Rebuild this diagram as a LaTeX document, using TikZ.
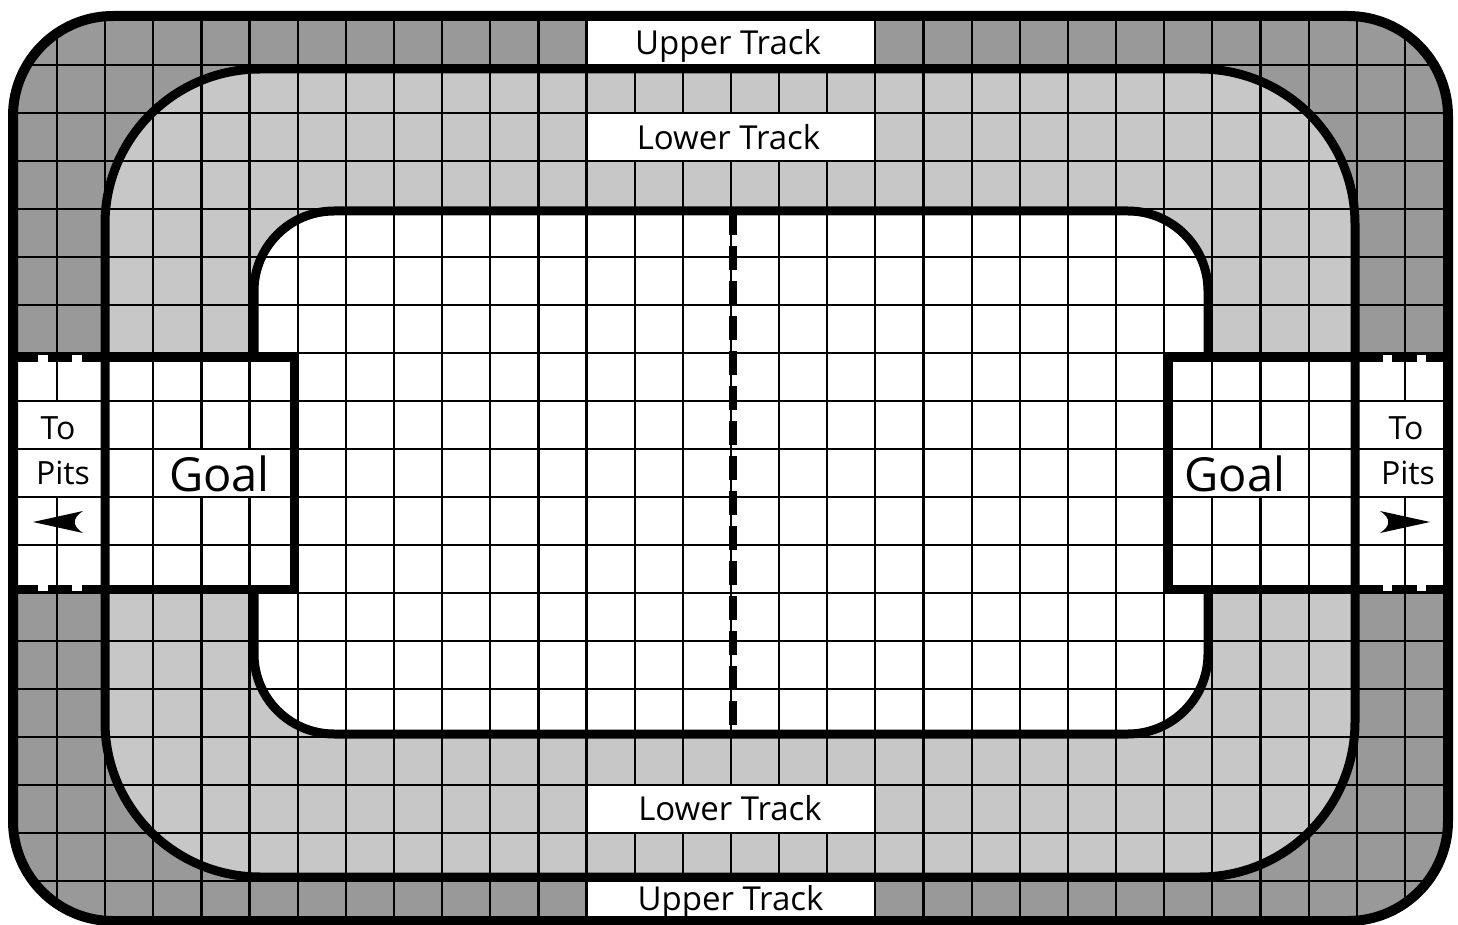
\documentclass[tikz,border=0pt]{standalone}
\usepackage{fontspec}
\setmainfont{Open Sans}
\definecolor{outertrack}{gray}{0.60}
\definecolor{innertrack}{gray}{0.78}
\begin{document}
\begin{tikzpicture}[x=0.5pt,y=-0.5pt,
  gridline/.style={line width=1.1pt,black},
  trackline/.style={line width=4.5pt,black},
  trklbl/.style={anchor=base,inner sep=0pt,font=\fontsize{16.5pt}{18pt}\selectfont},
  goallbl/.style={anchor=base,inner sep=0pt,font=\fontsize{23.5pt}{26pt}\selectfont},
  pitlbl/.style={anchor=base,inner sep=0pt,font=\fontsize{16pt}{18pt}\selectfont},
  notch/.style={fill=white},
  labelbg/.style={fill=white}]
\useasboundingbox (0,0) rectangle (1458,925);
% region fills
\fill[outertrack, rounded corners=50pt] (13,16) rectangle (1448,921);
\fill[innertrack, rounded corners=77.5pt] (105,69) rectangle (1355,877);
\fill[white, rounded corners=40pt] (254,211) rectangle (1208,734);
\fill[white] (13,357.5) rectangle (1448,589);
% grid
\begin{scope}
\clip[rounded corners=50pt] (13,16) rectangle (1448,921);
\foreach \k in {0,...,28} \draw[gridline] ({57+48.14*\k},0) -- ({57+48.14*\k},925);
\foreach \k in {0,...,17} \draw[gridline] (0,{65+48*\k}) -- (1458,{65+48*\k});
\end{scope}
% label backgrounds
\fill[labelbg] (587.7,18) rectangle (874.2,63.9);
\fill[labelbg] (587.7,114.1) rectangle (874.2,159.9);
\fill[labelbg] (587.7,786.1) rectangle (874.2,831.9);
\fill[labelbg] (587.7,882.1) rectangle (874.2,921);
\fill[labelbg] (154.4,450.1) rectangle (294,495.9);
\fill[labelbg] (1168.5,450.1) rectangle (1307.5,495.9);
\fill[labelbg] (13,402.1) rectangle (105,447.9);
\fill[labelbg] (13,450.1) rectangle (105,495.9);
\fill[labelbg] (1355,402.1) rectangle (1448,447.9);
\fill[labelbg] (1355,450.1) rectangle (1448,495.9);
% thick lines
\draw[trackline, line width=5pt, rounded corners=50pt] (13,16) rectangle (1448,921);
\draw[trackline, rounded corners=77.5pt] (105,69) rectangle (1355,877);
\draw[trackline, rounded corners=40pt] (254,357.5) -- (254,211) -- (1208,211) -- (1208,357.5);
\draw[trackline, rounded corners=40pt] (254,589) -- (254,734) -- (1208,734) -- (1208,589);
\draw[trackline] (13,357.5) -- (294,357.5) -- (294,589) -- (13,589);
\draw[trackline] (1448,357.5) -- (1168.5,357.5) -- (1168.5,589) -- (1448,589);
\draw[line width=4pt, dash pattern=on 12pt off 5.5pt] (733,211) -- (733,734);
% notches in the pit lines
\fill[notch] (38,355.5) rectangle (48,362.5);
\fill[notch] (72,355.5) rectangle (82,362.5);
\fill[notch] (38,584) rectangle (48,591);
\fill[notch] (72,584) rectangle (82,591);
\fill[notch] (1383,355.5) rectangle (1392,362.5);
\fill[notch] (1417,355.5) rectangle (1426,362.5);
\fill[notch] (1383,584) rectangle (1392,591);
\fill[notch] (1417,584) rectangle (1426,591);
% pit arrows
\fill (33,522) -- (83,511) .. controls (72,518) and (72,526) .. (83,533) -- cycle;
\fill (1430,522) -- (1380,511) .. controls (1391,518) and (1391,526) .. (1380,533) -- cycle;
% labels
\node[trklbl] (utop) at (728,55) {Upper Track};
\node[trklbl] (ltop) at (728.5,150) {Lower Track};
\node[trklbl] (lbot) at (730,820) {Lower Track};
\node[trklbl] (ubot) at (730.5,910) {Upper Track};
\node[goallbl] (goalL) at (219.5,492) {Goal};
\node[goallbl] (goalR) at (1235,492) {Goal};
\node[pitlbl] (toL) at (58,440) {To};
\node[pitlbl] (pitsL) at (63,485) {Pits};
\node[pitlbl] (toR) at (1406,440) {To};
\node[pitlbl] (pitsR) at (1408,485) {Pits};
\end{tikzpicture}
\end{document}
